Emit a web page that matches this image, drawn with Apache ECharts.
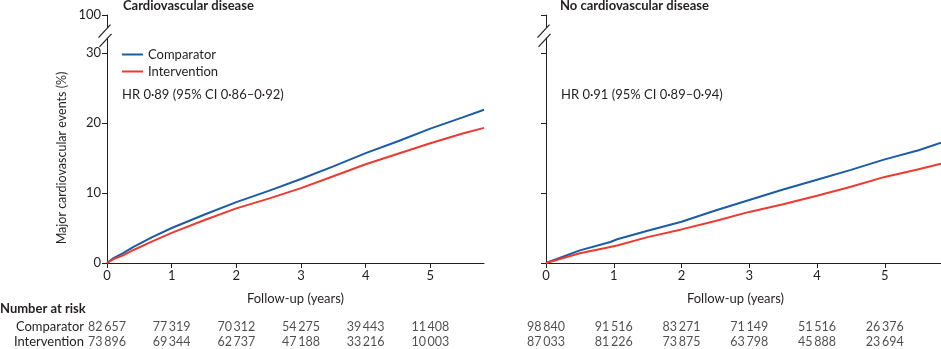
<!DOCTYPE html>
<html>
<head>
<meta charset="utf-8">
<script src="https://cdn.jsdelivr.net/npm/echarts@6/dist/echarts.min.js"></script>
<style>html,body{margin:0;padding:0;background:#fff;}#c{width:941px;height:349px;}</style>
</head>
<body>
<div id="c"></div>
<script>
// ---- data ----
const cvdYears = [0, 0.1, 0.25, 0.41, 0.7, 1.0, 1.5, 2.0, 2.5, 3.0, 3.5, 4.0, 4.5, 5.0, 5.5, 5.83];
const cvdComparator = [0, 0.7, 1.4, 2.3, 3.7, 5.0, 6.9, 8.7, 10.3, 12.0, 13.8, 15.7, 17.4, 19.2, 20.8, 21.9];
const cvdIntervention = [0, 0.55, 1.1, 1.86, 3.1, 4.3, 6.1, 7.8, 9.2, 10.7, 12.4, 14.1, 15.6, 17.1, 18.5, 19.3];

const noCvdYears = [0, 0.5, 0.95, 1.05, 1.5, 2.0, 2.5, 3.0, 3.5, 4.0, 4.5, 5.0, 5.5, 5.83];
const noCvdComparator = [0, 1.8, 3.0, 3.4, 4.6, 5.9, 7.5, 9.0, 10.5, 11.9, 13.3, 14.8, 16.1, 17.2];
const noCvdIntervention = [0, 1.4, 2.3, 2.5, 3.7, 4.8, 6.0, 7.3, 8.4, 9.6, 10.9, 12.3, 13.4, 14.2];

const riskYears = [0, 1, 2, 3, 4, 5];
const cvdRiskComparator = [82657, 77319, 70312, 54275, 39443, 11408];
const cvdRiskIntervention = [73896, 69344, 62737, 47188, 33216, 10003];
const noCvdRiskComparator = [98840, 91516, 83271, 71149, 51516, 26376];
const noCvdRiskIntervention = [87033, 81226, 73875, 63798, 45888, 23694];

const xTicks = [0, 1, 2, 3, 4, 5];
const yTicks = [0, 10, 20, 30];
const yBreakTop = 35.43;   // axis position representing 100
const yTopLabel = '100';
const xMax = 5.83;
const rowNames = ['Comparator', 'Intervention'];

// ---- style ----
const FONT = 'Lato';
const INK = '#231f20';
const BLUE = '#1c5ba6';
const RED = '#ec3a30';

const fmt = n => { const s = String(n); return s.slice(0, s.length - 3) + '\u2009' + s.slice(s.length - 3); };
const pairs = (xs, ys) => xs.map((x, i) => [x, ys[i]]);
const riskData = (vals, row) => riskYears.map((x, i) => [x, row, vals[i]]);

const chart = echarts.init(document.getElementById('c'));

function valueX(gi, namePad) {
  return {
    type: 'value', gridIndex: gi, min: 0, max: xMax, interval: 1,
    axisLine: { show: true, lineStyle: { color: INK, width: 1 } },
    axisTick: { show: true, length: 5, customValues: xTicks, lineStyle: { color: INK } },
    axisLabel: { customValues: xTicks, color: INK, fontFamily: FONT, fontSize: 13, margin: 6 },
    splitLine: { show: false },
    name: 'Follow-up (years)', nameLocation: 'middle', nameGap: 29,
    nameTextStyle: { color: INK, fontFamily: FONT, fontSize: 13, padding: [0, namePad, 0, 0] }
  };
}
function valueY(gi, showLabels) {
  return {
    type: 'value', gridIndex: gi, min: 0, max: yBreakTop,
    axisLine: { show: true, lineStyle: { color: INK, width: 1 } },
    axisTick: { show: true, length: 5, customValues: yTicks.concat([yBreakTop]), lineStyle: { color: INK } },
    axisLabel: {
      show: showLabels, customValues: yTicks.concat([yBreakTop]), color: INK, fontFamily: FONT, fontSize: 13, margin: 6,
      formatter: v => (v > 30 ? yTopLabel : String(v))
    },
    splitLine: { show: false }
  };
}
function tableX(gi) {
  return { type: 'value', gridIndex: gi, min: 0, max: xMax, show: false };
}
function tableY(gi, showLabels) {
  return {
    type: 'category', gridIndex: gi, data: rowNames, inverse: true,
    axisLine: { show: false }, axisTick: { show: false },
    axisLabel: { show: showLabels, interval: 0, color: INK, fontFamily: FONT, fontSize: 13, margin: 23 }
  };
}
function lineSeries(name, color, data, gi) {
  return {
    type: 'line', name, xAxisIndex: gi, yAxisIndex: gi, data, showSymbol: false, symbol: 'none',
    lineStyle: { color, width: 2 }, itemStyle: { color }, silent: true, animation: false
  };
}
function riskSeries(data, gi) {
  return {
    type: 'scatter', xAxisIndex: gi, yAxisIndex: gi, data, symbolSize: 1,
    itemStyle: { color: 'rgba(0,0,0,0)' }, silent: true, animation: false,
    labelLayout: { hideOverlap: false },
    label: { show: true, position: 'inside', formatter: p => fmt(p.value[2]), color: INK, fontFamily: FONT, fontSize: 12.5 }
  };
}

const txt = { color: INK, fontFamily: FONT, fontSize: 13, fontWeight: 'normal' };
chart.setOption({
  animation: false,
  textStyle: { fontFamily: FONT },
  title: [
    { text: 'Cardiovascular disease', left: 123, top: -1, padding: 0, textStyle: Object.assign({}, txt, { fontWeight: 'bold' }) },
    { text: 'No cardiovascular disease', left: 560, top: -1, padding: 0, textStyle: Object.assign({}, txt, { fontWeight: 'bold' }) },
    { text: 'HR 0·89 (95% CI 0·86–0·92)', left: 122, top: 88, padding: 0, textStyle: txt },
    { text: 'HR 0·91 (95% CI 0·89–0·94)', left: 561, top: 88, padding: 0, textStyle: txt },
    { text: 'Number at risk', left: 0, top: 302, padding: 0, textStyle: Object.assign({}, txt, { fontWeight: 'bold' }) }
  ],
  legend: {
    data: ['Comparator', 'Intervention'], orient: 'vertical', left: 122, top: 47, padding: 0,
    icon: 'rect', itemWidth: 21, itemHeight: 2, itemGap: 2,
    textStyle: { color: INK, fontFamily: FONT, fontSize: 13, lineHeight: 15, padding: [0, 0, 0, 0] },
    selectedMode: false
  },
  grid: [
    { left: 107, top: 15, width: 377, height: 248 },
    { left: 546, top: 15, width: 395, height: 248 },
    { left: 107, top: 319, width: 377, height: 32 },
    { left: 546, top: 319, width: 395, height: 32 }
  ],
  xAxis: [valueX(0, 0), valueX(1, 16), tableX(2), tableX(3)],
  yAxis: [valueY(0, true), valueY(1, false), tableY(2, true), tableY(3, false)],
  series: [
    lineSeries('Comparator', BLUE, pairs(cvdYears, cvdComparator), 0),
    lineSeries('Intervention', RED, pairs(cvdYears, cvdIntervention), 0),
    lineSeries('Comparator', BLUE, pairs(noCvdYears, noCvdComparator), 1),
    lineSeries('Intervention', RED, pairs(noCvdYears, noCvdIntervention), 1),
    riskSeries(riskData(cvdRiskComparator, 'Comparator').concat(riskData(cvdRiskIntervention, 'Intervention')), 2),
    riskSeries(riskData(noCvdRiskComparator, 'Comparator').concat(riskData(noCvdRiskIntervention, 'Intervention')), 3)
  ]
});

// axis break decoration and rotated y-axis name
const g = [];
[0, 1].forEach(gi => {
  const p30 = chart.convertToPixel({ gridIndex: gi }, [0, 30]);
  const pTop = chart.convertToPixel({ gridIndex: gi }, [0, yBreakTop]);
  const ax = Math.round(p30[0]) + 0.5;
  const span = p30[1] - pTop[1];
  const yA = pTop[1] + span * 0.33;   // upper slash crossing
  const yB = pTop[1] + span * 0.60;   // lower slash crossing
  g.push({ type: 'rect', shape: { x: ax - 2, y: yA, width: 4, height: yB - yA }, style: { fill: '#fff' }, z: 100 });
  g.push({ type: 'line', shape: { x1: ax - 9, y1: yA + 10, x2: ax + 3, y2: yA - 3 }, style: { stroke: INK, lineWidth: 1.2 }, z: 101 });
  g.push({ type: 'line', shape: { x1: ax - 8, y1: yB + 9, x2: ax + 4, y2: yB - 4 }, style: { stroke: INK, lineWidth: 1.2 }, z: 101 });
});
const pMid = chart.convertToPixel({ gridIndex: 0 }, [0, 15]);
g.push({
  type: 'text', x: 62, y: pMid[1], rotation: Math.PI / 2,
  style: { text: 'Major cardiovascular events (%)', fill: INK, font: '12.5px ' + FONT, align: 'center', verticalAlign: 'middle' }, z: 100
});
chart.setOption({ graphic: g });
</script>
</body>
</html>
